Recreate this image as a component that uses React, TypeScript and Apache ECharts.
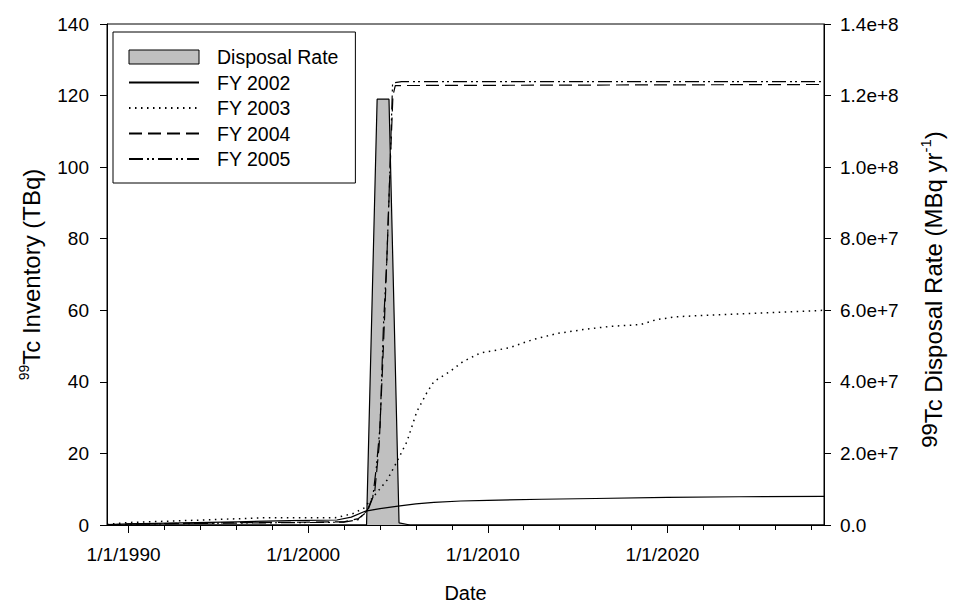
import React, { useEffect, useRef } from "react";
import * as echarts from "echarts";

const FONT = "'Liberation Sans', Arial, Helvetica, sans-serif";

// x axis range (decimal years)
const xMin = 1988.8;
const xMax = 2028.72;

const majorTickYears = [1990, 2000, 2010, 2020];
const minorTickYears = [1990, 1992, 1994, 1996, 1998, 2000, 2002, 2004, 2006, 2008, 2010, 2012, 2014, 2016, 2018, 2020, 2022, 2024, 2026, 2028];

const leftTicks = { min: 0, max: 140, interval: 20 };
const rightTicks = { min: 0, max: 1.4e8, interval: 2e7 };

const seriesNames = ["Disposal Rate", "FY 2002", "FY 2003", "FY 2004", "FY 2005"];

// Disposal rate (MBq/yr)
const disposalRate: [number, number][] = [
  [1988.8, 0], [2003.25, 0], [2003.84, 1.19e8], [2004.5, 1.19e8], [2005.06, 0.6e6], [2005.67, 0], [2028.72, 0],
];

// Inventories (TBq)
const fy2002: [number, number][] = [
  [1988.8, 0.1], [1990, 0.3], [1993, 0.6], [1996, 0.9], [1999, 1.2], [2001.6, 1.4], [2002.4, 2.2], [2003.2, 3.9],
  [2004, 4.6], [2005, 5.3], [2006, 5.9], [2007, 6.3], [2008.5, 6.7], [2010, 6.9], [2013, 7.2], [2016, 7.4],
  [2020, 7.7], [2024, 7.9], [2028.72, 8.0],
];

const fy2003: [number, number][] = [
  [1988.8, 0.2], [1990, 0.7], [1993, 1.2], [1995.8, 1.7], [1997.5, 2.0], [2001.5, 2.0], [2002.5, 3.2], [2003.1, 4.7],
  [2003.8, 8.9], [2004.4, 12.6], [2004.9, 17.3], [2005.5, 23.3], [2006.05, 31.7], [2006.6, 36.9], [2007, 40.1],
  [2007.9, 42.9], [2008.6, 45.6], [2009.6, 48.1], [2011.2, 49.5], [2012.5, 51.8], [2013.85, 53.5], [2015.3, 54.6],
  [2016.8, 55.5], [2018.5, 56.0], [2019.4, 57.4], [2020.5, 58.2], [2023, 58.8], [2026, 59.4], [2028.72, 60.0],
];

const fy2004: [number, number][] = [
  [1988.8, 0], [1990, 0.3], [1995, 0.6], [2000, 0.8], [2002, 0.9], [2002.8, 1.8], [2003.3, 3.8], [2003.7, 9],
  [2003.95, 22], [2004.15, 45], [2004.35, 70], [2004.55, 98], [2004.72, 120], [2004.85, 122.8], [2028.72, 123.1],
];

const fy2005: [number, number][] = [
  [1988.8, 0], [1990, 0.2], [1995, 0.5], [2000, 0.7], [2002, 0.8], [2002.8, 1.5], [2003.3, 4.2], [2003.6, 7.9],
  [2003.8, 16.3], [2004, 27.5], [2004.19, 55.5], [2004.38, 74.2], [2004.57, 102], [2004.7, 123.5], [2005.2, 123.9],
  [2028.72, 123.9],
];

const sci = (v: number) => {
  if (v === 0) return "0.0";
  const e = Math.floor(Math.log10(v) + 1e-9);
  const m = v / Math.pow(10, e);
  return m.toFixed(1) + "e+" + e;
};

export default function App() {
  const ref = useRef<HTMLDivElement>(null);
  useEffect(() => {
    if (!ref.current) return;
    const chart = echarts.init(ref.current, undefined, { renderer: "svg" });
    const black = "#000";
    const lineW = 1.2;
    const option: any = {
      animation: false,
      backgroundColor: "#fff",
      textStyle: { fontFamily: FONT, color: black },
      grid: {
        left: 107, right: 136, top: 24, bottom: 80,
        show: true, borderColor: black, borderWidth: 1,
        containLabel: false, outerBoundsMode: "none",
      },
      legend: {
        orient: "vertical",
        left: 113, top: 32,
        padding: [15, 17, 14, 15],
        borderColor: black, borderWidth: 1, backgroundColor: "#fff",
        itemWidth: 70, itemHeight: 14, itemGap: 5.5,
        textStyle: { fontFamily: FONT, fontSize: 19.5, color: black, lineHeight: 19, padding: [0, 0, 0, 13] },
        data: [
          { name: seriesNames[0], icon: "rect", itemStyle: { color: "#c0c0c0", borderColor: black, borderWidth: 1 } },
          { name: seriesNames[1], itemStyle: { opacity: 0 } },
          { name: seriesNames[2], itemStyle: { opacity: 0 } },
          { name: seriesNames[3], itemStyle: { opacity: 0 } },
          { name: seriesNames[4], itemStyle: { opacity: 0 } },
        ],
      },
      xAxis: [
        {
          type: "value", min: xMin, max: xMax, position: "bottom",
          axisLine: { show: true, lineStyle: { color: black, width: 1 } },
          axisTick: { show: true, inside: false, length: 5, customValues: minorTickYears, lineStyle: { color: black } },
          axisLabel: { show: false },
          splitLine: { show: false },
          name: "Date", nameLocation: "middle", nameGap: 58,
          nameTextStyle: { fontFamily: FONT, fontSize: 20, color: black },
        },
        {
          type: "value", min: xMin, max: xMax, position: "bottom",
          axisLine: { show: false },
          axisTick: { show: true, inside: false, length: 8, customValues: majorTickYears, lineStyle: { color: black } },
          axisLabel: {
            show: true, customValues: majorTickYears, margin: 20,
            fontFamily: FONT, fontSize: 19, color: black,
            padding: [0, 10, 0, 0],
            formatter: (v: number) => "1/1/" + Math.round(v),
          },
          splitLine: { show: false },
        },
      ],
      yAxis: [
        {
          type: "value", position: "left", ...leftTicks,
          axisLine: { show: true, lineStyle: { color: black } },
          axisTick: { show: true, inside: false, length: 7, lineStyle: { color: black } },
          axisLabel: { fontFamily: FONT, fontSize: 19, color: black, margin: 18 },
          splitLine: { show: false },
          name: "{s|99}{m|Tc Inventory (TBq)}",
          nameLocation: "middle", nameGap: 62, nameRotate: 90,
          nameTextStyle: {
            fontFamily: FONT, fontSize: 24, color: black,
            rich: {
              s: { fontFamily: FONT, fontSize: 14, lineHeight: 14, verticalAlign: "top", color: black },
              m: { fontFamily: FONT, fontSize: 24, lineHeight: 28, color: black },
            },
          },
        },
        {
          type: "value", position: "right", ...rightTicks,
          axisLine: { show: true, lineStyle: { color: black } },
          axisTick: { show: true, inside: false, length: 7, lineStyle: { color: black } },
          axisLabel: { fontFamily: FONT, fontSize: 19, color: black, margin: 16, formatter: sci },
          splitLine: { show: false },
          name: "{a|99}{b|Tc Disposal Rate (MBq yr}{c|-1}{b|)}",
          nameLocation: "middle", nameGap: 94, nameRotate: 90,
          nameTextStyle: {
            fontFamily: FONT, fontSize: 24, color: black,
            padding: [0, 30, 0, 0],
            rich: {
              a: { fontFamily: FONT, fontSize: 22, lineHeight: 22, verticalAlign: "top", color: black },
              b: { fontFamily: FONT, fontSize: 24, lineHeight: 30, color: black },
              c: { fontFamily: FONT, fontSize: 15, lineHeight: 15, verticalAlign: "top", color: black },
            },
          },
        },
      ],
      series: [
        {
          name: seriesNames[0], type: "line", xAxisIndex: 0, yAxisIndex: 1, data: disposalRate,
          symbol: "none", showSymbol: false,
          lineStyle: { color: black, width: lineW },
          itemStyle: { color: "#c0c0c0" },
          areaStyle: { color: "#c0c0c0", opacity: 1 },
        },
        {
          name: seriesNames[1], type: "line", xAxisIndex: 0, yAxisIndex: 0, data: fy2002,
          symbol: "none", showSymbol: false,
          lineStyle: { color: black, width: lineW, type: "solid" }, itemStyle: { color: black },
        },
        {
          name: seriesNames[2], type: "line", xAxisIndex: 0, yAxisIndex: 0, data: fy2003,
          symbol: "none", showSymbol: false,
          lineStyle: { color: black, width: 1.5, type: [1.5, 4.5] }, itemStyle: { color: black },
        },
        {
          name: seriesNames[3], type: "line", xAxisIndex: 0, yAxisIndex: 0, data: fy2004,
          symbol: "none", showSymbol: false,
          lineStyle: { color: black, width: lineW, type: [13, 6] }, itemStyle: { color: black },
        },
        {
          name: seriesNames[4], type: "line", xAxisIndex: 0, yAxisIndex: 0, data: fy2005,
          symbol: "none", showSymbol: false,
          lineStyle: { color: black, width: lineW, type: [14, 4, 2, 3, 2, 4] }, itemStyle: { color: black },
        },
      ],
    };
    chart.setOption(option);
    return () => chart.dispose();
  }, []);
  return <div ref={ref} style={{ position: "absolute", left: 0, top: 0, width: 960, height: 605 }} />;
}
